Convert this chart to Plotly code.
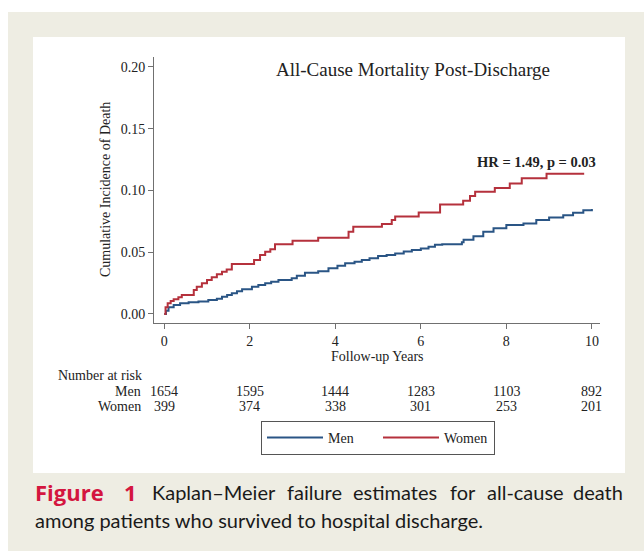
import plotly.graph_objects as go

# ---- data ----
women_t = [0, 0.03, 0.08, 0.15, 0.22, 0.33, 0.41, 0.69, 0.76, 0.88, 1.00, 1.11, 1.23, 1.35, 1.46,
           1.58, 2.10, 2.24, 2.36, 2.48, 2.59, 3.00, 3.60, 4.31, 4.42, 5.09, 5.32, 5.40, 5.95,
           6.45, 6.99, 7.15, 7.27, 7.73, 8.08, 8.36, 8.94, 9.82]
women_v = [0, 0.0054, 0.0086, 0.0105, 0.0119, 0.0135, 0.0154, 0.0194, 0.0221, 0.0248, 0.0275,
           0.0297, 0.0321, 0.0342, 0.0361, 0.0405, 0.0437, 0.0477, 0.0504, 0.0523, 0.0565,
           0.0592, 0.0617, 0.0666, 0.0706, 0.0728, 0.0760, 0.0790, 0.0822, 0.0887, 0.0917,
           0.0955, 0.0990, 0.1020, 0.1057, 0.1098, 0.1135, 0.1135]

men_t = [0, 0.04, 0.10, 0.22, 0.37, 0.57, 0.80, 1.03, 1.23, 1.35, 1.47, 1.58, 1.70, 1.82, 2.05,
         2.20, 2.36, 2.50, 2.67, 2.98, 3.10, 3.29, 3.60, 3.84, 4.05, 4.23, 4.45, 4.62, 4.80,
         5.00, 5.20, 5.40, 5.60, 5.79, 6.00, 6.18, 6.33, 6.50, 6.96, 7.00, 7.23, 7.46, 7.70,
         8.00, 8.40, 8.70, 9.00, 9.33, 9.56, 9.80, 10.0]
men_v = [0, 0.0027, 0.0054, 0.0073, 0.0086, 0.0094, 0.0102, 0.0113, 0.0124, 0.0140, 0.0153,
         0.0167, 0.0183, 0.0200, 0.0221, 0.0235, 0.0248, 0.0260, 0.0275, 0.0289, 0.0310,
         0.0334, 0.0345, 0.0370, 0.0390, 0.0410, 0.0422, 0.0437, 0.0452, 0.0470, 0.0478,
         0.0490, 0.0505, 0.0518, 0.0530, 0.0545, 0.0560, 0.0565, 0.0580, 0.0600, 0.0630,
         0.0666, 0.0693, 0.0720, 0.0733, 0.0760, 0.0780, 0.0800, 0.0820, 0.0840, 0.0850]

risk_times = [0, 2, 4, 6, 8, 10]
risk_men = [1654, 1595, 1444, 1283, 1103, 892]
risk_women = [399, 374, 338, 301, 253, 201]

x_ticks = [0, 2, 4, 6, 8, 10]
y_ticks = [0.00, 0.05, 0.10, 0.15, 0.20]
y_ticktext = ["0.00", "0.05", "0.10", "0.15", "0.20"]

# ---- styling ----
BLUE = "#2a5585"
RED = "#b5313c"
SERIF = "Liberation Serif"
SANS = "Lato"
BEIGE = "#eeede3"
AXC = "#707070"
TXT = "#222222"
FS = 14

W, H = 644, 551
L, R, T, B = 154, 600, 57, 323
PW, PH = R - L, B - T


def px(x):
    return (x - L) / PW


def py(y):
    return (B - y) / PH


fig = go.Figure()
fig.add_trace(go.Scatter(x=men_t, y=men_v, mode="lines", name="Men",
                         line=dict(color=BLUE, width=2, shape="hv")))
fig.add_trace(go.Scatter(x=women_t, y=women_v, mode="lines", name="Women",
                         line=dict(color=RED, width=2, shape="hv")))

shapes = [
    dict(type="rect", xref="paper", yref="paper", x0=px(8), x1=px(660), y0=py(560), y1=py(12),
         fillcolor=BEIGE, line=dict(width=0), layer="below"),
    dict(type="rect", xref="paper", yref="paper", x0=px(33), x1=px(625), y0=py(473), y1=py(37),
         fillcolor="white", line=dict(width=0), layer="below"),
]

ann = []
tf = dict(family=SERIF, color=TXT)
ann.append(dict(text="All-Cause Mortality Post-Discharge", x=px(413), y=py(69), xref="paper", yref="paper",
                showarrow=False, xanchor="center", yanchor="middle", font=dict(tf, size=19)))
ann.append(dict(text="<b>HR = 1.49, p = 0.03</b>", x=px(598), y=py(162), xref="paper", yref="paper",
                showarrow=False, xanchor="right", yanchor="middle", font=dict(tf, size=14.5)))
ann.append(dict(text="Cumulative Incidence of Death", x=px(105), y=py(190), xref="paper", yref="paper",
                showarrow=False, textangle=-90, xanchor="center", yanchor="middle", font=dict(tf, size=FS)))
ann.append(dict(text="Follow-up Years", x=px(377), y=py(356), xref="paper", yref="paper",
                showarrow=False, xanchor="center", yanchor="middle", font=dict(tf, size=FS)))
ann.append(dict(text="Number at risk", x=px(56), y=py(375), xref="paper", yref="paper",
                showarrow=False, xanchor="left", yanchor="middle", font=dict(tf, size=FS)))
ann.append(dict(text="Men", x=px(143), y=py(391), xref="paper", yref="paper",
                showarrow=False, xanchor="right", yanchor="middle", font=dict(tf, size=FS)))
ann.append(dict(text="Women", x=px(143), y=py(406), xref="paper", yref="paper",
                showarrow=False, xanchor="right", yanchor="middle", font=dict(tf, size=FS)))
for t, m, w in zip(risk_times, risk_men, risk_women):
    ann.append(dict(text=str(m), x=t, y=py(391), xref="x", yref="paper", showarrow=False,
                    xanchor="center", yanchor="middle", font=dict(tf, size=FS)))
    ann.append(dict(text=str(w), x=t, y=py(406), xref="x", yref="paper", showarrow=False,
                    xanchor="center", yanchor="middle", font=dict(tf, size=FS)))

# caption
cf = dict(family=SANS, size=20, color="#1a1a1a")
ann.append(dict(text="<b>Figure</b>", x=px(33), y=py(492), xref="paper", yref="paper", showarrow=False,
                xanchor="left", yanchor="middle", font=dict(family="Open Sans", size=22, color="#d4163f")))
ann.append(dict(text="<b>1</b>", x=px(130), y=py(492), xref="paper", yref="paper", showarrow=False,
                xanchor="center", yanchor="middle", font=dict(family="Open Sans", size=22, color="#d4163f")))
for word, cx, anc in [("Kaplan–Meier", 214, "center"), ("failure", 314.5, "center"),
                      ("estimates", 395, "center"), ("for", 462.5, "center"),
                      ("all-cause", 525.5, "center"), ("death", 625, "right")]:
    ann.append(dict(text=word, x=px(cx), y=py(492), xref="paper", yref="paper", showarrow=False,
                    xanchor=anc, yanchor="middle", font=cf))
ann.append(dict(text="among patients who survived to hospital discharge.", x=px(33), y=py(520),
                xref="paper", yref="paper", showarrow=False, xanchor="left", yanchor="middle", font=cf))

fig.update_layout(
    width=W, height=H,
    margin=dict(l=L, r=W - R, t=T, b=H - B, pad=0),
    paper_bgcolor="white", plot_bgcolor="rgba(0,0,0,0)",
    shapes=shapes, annotations=ann,
    showlegend=True,
    legend=dict(orientation="h", x=px(378), xanchor="center", y=py(421), yanchor="top",
                bgcolor="white", bordercolor="#555555", borderwidth=1,
                font=dict(family=SERIF, size=FS, color=TXT),
                itemwidth=56, entrywidth=45, entrywidthmode="pixels"),
    xaxis=dict(range=[-0.24, 10.19], tickvals=x_ticks, showgrid=False, zeroline=False,
               showline=True, linecolor=AXC, linewidth=1, ticks="outside", ticklen=5, tickcolor=AXC,
               tickfont=dict(family=SERIF, size=FS, color=TXT)),
    yaxis=dict(range=[-0.0073, 0.208], tickvals=y_ticks, ticktext=y_ticktext, showgrid=False,
               zeroline=False, showline=True, linecolor=AXC, linewidth=1, ticks="outside",
               ticklen=5, tickcolor=AXC, tickfont=dict(family=SERIF, size=FS, color=TXT)),
)

fig.write_html("out.html", config={"displayModeBar": False},
               post_script="document.body.style.margin='0';document.body.style.overflow='hidden';")
